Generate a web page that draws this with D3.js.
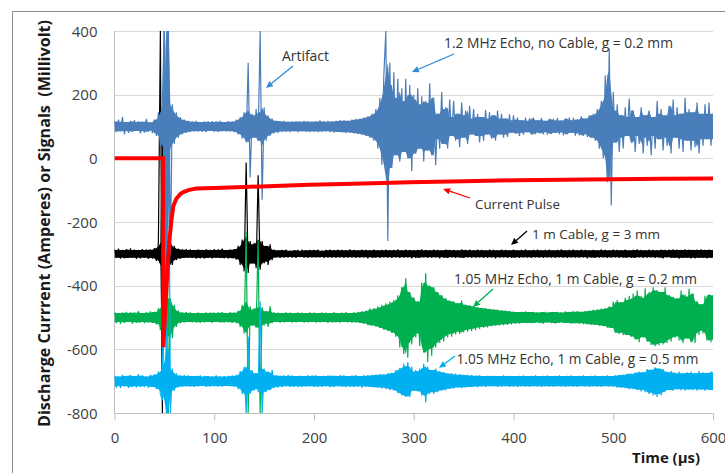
<!DOCTYPE html>
<html lang="en">
<head>
<meta charset="UTF-8">
<title>Discharge current and echo signals</title>
<script src="https://d3js.org/d3.v7.min.js"></script>
<style>
    body { margin: 0; background: #fff; }
    svg text { font-family: "Open Sans", "Liberation Sans", sans-serif; }
    .tick text { fill: #404040; font-size: 15px; }
    .ann { fill: #333; font-size: 14px; }
    .title { fill: #1a1a1a; font-weight: bold; font-size: 14px; }
</style>
</head>
<body>
<svg id="chart" width="725" height="473"></svg>
<script>
// axis ticks
const xTicks = [0, 100, 200, 300, 400, 500, 600];
const yTicks = [-800, -600, -400, -200, 0, 200, 400];

// echo traces are read every 2 us (0..600), values in mV around each trace's offset
const stepUs = 2;
const blueOffset = 100, blackOffset = -300, greenOffset = -500, cyanOffset = -700;

// 1.2 MHz echo, no cable, g = 0.2 mm
const blueV = [
    16,-18,22,-15,30,-25,14,-20,18,-16,
    20,-14,17,-22,15,-19,24,-17,13,-21,
    22,-30,45,-60,80,320,-400,320,-400,70,
    -55,45,-35,30,-25,22,-20,18,-17,16,
    -15,18,-16,14,-17,15,-18,16,-14,17,
    -16,15,-17,18,-15,14,-16,17,-15,16,
    -18,22,-25,30,-38,45,-50,200,-160,40,
    -35,55,-45,300,-230,60,-45,35,-30,25,
    -22,18,-20,17,-16,18,-17,15,-18,16,
    -15,17,-18,16,-15,18,-16,17,-18,15,
    -17,16,-18,19,-16,17,-15,18,-17,16,
    -19,18,-17,20,-18,19,-21,18,-20,22,
    -21,24,-23,25,-26,28,-30,32,-35,40,
    -45,55,-70,90,-120,160,300,-360,200,-130,
    170,-90,150,-110,120,-80,150,-100,130,-140,
    100,-85,120,-70,95,-110,80,-75,136,-90,
    90,-122,40,-70,108,-55,60,-69,85,-30,
    80,-45,40,-65,75,-35,50,-55,65,-25,
    55,-30,40,-50,30,-45,52,-25,45,-38,
    35,-45,50,-25,40,-35,25,-33,38,-20,
    35,-22,28,-30,20,-26,28,-18,26,-25,
    28,-24,20,-22,27,-25,18,-26,25,-23,
    24,-20,27,-24,19,-28,26,-24,28,-20,
    27,-29,22,-28,32,-30,25,-33,35,-35,
    40,-45,55,-70,81,-100,161,-175,245,-248,
    108,-50,70,-80,35,-69,60,-30,88,-50,
    50,-80,30,-55,60,-85,35,-60,50,-90,
    30,-70,80,-40,55,-75,35,-60,65,-85,
    85,-35,60,-70,40,-80,90,-45,55,-75,
    45,-65,75,-85,40,-60,70,-40,75,-60,
    40
];

// 1 m cable, g = 3 mm
const blackV = [
    14,-12,16,-15,12,-14,15,-13,17,-12,
    13,-16,12,-14,15,-12,14,-16,13,-15,
    18,-22,35,700,-500,700,-60,-45,40,-35,
    25,-20,16,-15,14,-13,15,-12,14,-13,
    12,-15,13,-14,12,-15,14,-13,12,-14,
    15,-12,14,-13,16,-14,12,-15,13,-14,
    15,-18,25,-35,45,-55,287,-60,40,-30,
    35,-45,247,-50,40,-30,25,-35,30,-20,
    13,-12,11,-13,12,-11,13,-12,10,-12,
    11,-13,12,-10,13,-12,11,-13,12,-11,
    12,-11,13,-12,10,-13,12,-11,13,-12,
    11,-12,13,-11,12,-13,11,-12,14,-11,
    12,-13,11,-12,13,-11,12,-14,11,-12,
    13,-12,11,-13,12,-11,13,-12,11,-13,
    12,-11,14,-13,11,-12,13,-11,12,-14,
    11,-13,12,-12,14,-11,12,-13,11,-12,
    13,-11,12,-14,11,-12,13,-12,12,-11,
    12,-13,11,-12,14,-13,12,-11,13,-12,
    11,-12,13,-11,12,-13,11,-12,13,-11,
    12,-14,11,-12,13,-11,12,-13,11,-12,
    13,-12,11,-13,12,-11,14,-12,11,-13,
    12,-11,13,-12,11,-13,12,-11,13,-12,
    11,-13,12,-11,14,-12,11,-13,12,-11,
    13,-12,11,-12,13,-11,12,-14,11,-12,
    12,-13,11,-12,14,-11,12,-13,11,-12,
    13,-11,12,-13,11,-12,13,-12,11,-13,
    12,-12,14,-11,12,-13,11,-12,13,-11,
    12,-13,11,-12,13,-14,12,-11,13,-12,
    14,-12,13,-15,12,-13,14,-12,13,-14,
    12,-14,13,-12,14,-13,12,-14,13,-12,
    12
];

// 1.05 MHz echo, 1 m cable, g = 0.2 mm
const greenV = [
    16,-18,14,-20,15,-17,18,-14,16,-19,
    15,-17,20,-16,14,-18,16,-15,19,-17,
    18,-22,30,-40,50,-60,760,-300,60,-65,
    40,-30,22,-18,16,-15,17,-14,16,-15,
    14,-16,15,-17,14,-15,16,-14,15,-16,
    15,-14,16,-15,17,-16,14,-15,16,-17,
    15,-18,22,-30,40,-50,270,-300,35,-25,
    30,-32,242,-300,32,-25,20,-30,35,-18,
    16,-14,15,-16,14,-15,16,-14,15,-16,
    14,-15,16,-14,15,-16,14,-15,16,-14,
    15,-16,14,-15,16,-14,15,-17,14,-15,
    16,-15,14,-16,15,-14,17,-15,14,-16,
    16,-15,18,-17,20,-19,22,-24,28,-25,
    30,-28,35,-33,40,-38,45,-42,50,-48,
    55,-60,70,-94,95,-115,123,-126,80,-85,
    63,-63,50,-90,110,-110,139,-140,100,-120,
    95,-94,80,-80,70,-75,60,-63,53,-60,
    50,-53,45,-52,53,-47,40,-45,38,-42,
    35,-40,32,-36,30,-32,29,-31,27,-28,
    25,-26,24,-25,22,-24,21,-23,20,-22,
    18,-20,17,-19,18,-17,19,-18,17,-18,
    18,-17,16,-18,17,-19,18,-16,17,-18,
    17,-19,18,-17,16,-18,19,-17,18,-19,
    19,-18,20,-19,18,-21,20,-22,21,-23,
    24,-23,26,-25,28,-27,30,-32,35,-33,
    50,-48,55,-52,48,-56,62,-55,68,-60,
    75,-68,85,-78,68,-62,92,-75,80,-86,
    95,-90,85,-87,80,-85,95,-80,70,-75,
    65,-63,60,-72,85,-80,72,-66,90,-78,
    75,-80,50,-55,42,-50,68,-72,72,-78,
    70
];

// 1.05 MHz echo, 1 m cable, g = 0.5 mm
const cyanV = [
    18,-20,15,-22,20,-16,17,-21,19,-18,
    16,-20,22,-17,18,-19,15,-21,20,-18,
    22,-25,30,-40,-60,1100,-100,1100,-100,40,
    -30,25,-20,18,-17,19,-16,18,-17,16,
    -18,17,-16,18,-15,17,-18,16,-17,15,
    -16,18,-17,15,-18,16,-15,17,-16,18,
    -17,20,-25,32,-40,45,-100,140,-40,35,
    -30,25,-35,250,-100,40,-35,30,-28,35,
    -22,18,-20,17,-19,18,-16,20,-18,17,
    -18,16,-19,17,-18,16,-17,19,-16,18,
    -17,18,-19,16,-18,17,-16,18,-19,17,
    -18,17,-16,19,-17,18,-19,16,-18,17,
    -17,19,-18,16,-20,18,-17,19,-18,20,
    -19,21,-20,22,-23,21,-25,24,-28,26,
    -30,35,-38,42,-45,55,-48,60,-50,45,
    -30,35,-32,40,-45,55,-67,45,-40,35,
    -40,40,-35,30,-30,28,-28,25,-24,25,
    -22,24,-20,22,-21,20,-19,20,-18,19,
    -18,17,-19,18,-17,16,-18,17,-16,17,
    -16,17,-18,16,-17,18,-16,17,-18,16,
    -17,16,-18,17,-16,18,-17,16,-18,17,
    -16,18,-17,16,-18,17,-16,18,-17,16,
    -18,17,-16,18,-17,16,-18,17,-16,18,
    -17,16,-18,17,-16,18,-17,16,-18,17,
    -16,18,-17,16,-18,17,-16,18,-17,16,
    -17,18,-20,19,-21,20,-22,24,-25,23,
    -25,28,-27,30,-32,28,-35,38,-40,36,
    -45,43,-50,40,-45,38,-35,30,-28,32,
    -30,27,-25,30,-28,25,-30,28,-26,30,
    -28,25,-30,32,-26,28,-30,26,-28,30,
    -28
];

// current pulse (A)
const redT = [0,20,40,48.7,48.9,51,53,55,57,59,62,66,69,75,82,100,130,160,196,250,296,350,400,450,500,550,600];
const redV = [0,0,0,0,-593,-470,-360,-260,-195,-150,-127,-112,-106,-99,-95,-93,-90,-87,-83,-79,-75,-72,-69,-67,-66,-64,-63];

const svg = d3.select("#chart");

const x = d3.scaleLinear().domain([0, 600]).range([114.5, 713]);
const y = d3.scaleLinear().domain([-800, 400]).range([413, 31]);

// outer frame (cut off at right and bottom)
svg.append("path")
    .attr("d", "M12.5,473V11.5H725")
    .attr("fill", "none").attr("stroke", "#8c8c8c");

// horizontal gridlines
svg.append("g").selectAll("line")
    .data(yTicks)
    .join("line")
    .attr("x1", x(0)).attr("x2", x(600))
    .attr("y1", d => Math.round(y(d)) + 0.5).attr("y2", d => Math.round(y(d)) + 0.5)
    .attr("stroke", d => d === -800 ? "#bfbfbf" : "#d9d9d9");

// y axis line
svg.append("line")
    .attr("x1", x(0)).attr("x2", x(0))
    .attr("y1", y(400)).attr("y2", y(-800))
    .attr("stroke", "#bfbfbf");

// x axis ticks + labels
const xAxis = svg.append("g")
    .attr("transform", `translate(0,${Math.round(y(-800)) + 0.5})`)
    .call(d3.axisBottom(x).tickValues(xTicks).tickSize(7).tickPadding(12).tickFormat(d3.format("d")));
xAxis.select(".domain").remove();
xAxis.selectAll(".tick line").attr("stroke", "#bfbfbf");

// y axis labels
const yAxis = svg.append("g")
    .attr("transform", `translate(${x(0)},0)`)
    .call(d3.axisLeft(y).tickValues(yTicks).tickSize(0).tickPadding(17).tickFormat(d => d < 0 ? "-" + Math.abs(d) : d));
yAxis.select(".domain").remove();
yAxis.selectAll(".tick text").attr("dy", "0.35em");

// plot clip
svg.append("clipPath").attr("id", "plot")
    .append("rect")
    .attr("x", x(0)).attr("y", y(400))
    .attr("width", x(600) - x(0)).attr("height", y(-800) - y(400));

const traces = svg.append("g").attr("clip-path", "url(#plot)");

// dense trace: a solid core where neighbouring swings overlap, the raw line on top
function trace(values, offset, color) {
    const core = values.map((v, i) => Math.min(
        Math.abs(values[Math.max(i - 1, 0)]),
        Math.abs(v),
        Math.abs(values[Math.min(i + 1, values.length - 1)])));
    const area = d3.area()
        .x((d, i) => x(i * stepUs))
        .y0(d => y(offset - d))
        .y1(d => y(offset + d));
    traces.append("path")
        .datum(core)
        .attr("d", area)
        .attr("fill", color);

    const line = d3.line()
        .x((d, i) => x(i * stepUs))
        .y(d => y(d + offset));
    traces.append("path")
        .datum(values)
        .attr("d", line)
        .attr("fill", "none")
        .attr("stroke", color)
        .attr("stroke-width", 1.2)
        .attr("stroke-linejoin", "bevel");
}

trace(blackV, blackOffset, "#000000");
trace(greenV, greenOffset, "#00b050");
trace(cyanV, cyanOffset, "#00b0f0");
trace(blueV, blueOffset, "#4a7ebb");

const redLine = d3.line().x((d, i) => x(redT[i])).y(d => y(d));
traces.append("path")
    .datum(redV)
    .attr("d", redLine)
    .attr("fill", "none")
    .attr("stroke", "#ff0000")
    .attr("stroke-width", 4);

// fit a text element to a measured width
function fit(t, w) {
    const len = t.node().getComputedTextLength();
    const fs = parseFloat(t.style("font-size"));
    t.style("font-size", (fs * w / len).toFixed(2) + "px");
}

// annotations: text, left x, baseline y, width, arrow tail, arrow head, colour
const notes = [
    { text: "Artifact", x: 282, y: 60.5, w: 47, tail: [293, 66], head: [266, 88], color: "#2f8ad2" },
    { text: "1.2 MHz Echo, no Cable, g = 0.2 mm", x: 444, y: 48, w: 229, tail: [454, 54], head: [412, 72], color: "#2f8ad2" },
    { text: "Current Pulse", x: 475, y: 208.5, w: 85, tail: [470, 198], head: [443, 189], color: "#ff0000" },
    { text: "1 m Cable, g = 3 mm", x: 532, y: 238.5, w: 128, tail: [527, 231], head: [511, 245], color: "#000000" },
    { text: "1.05 MHz Echo, 1 m Cable, g = 0.2 mm", x: 454, y: 283.5, w: 243, tail: [493, 289], head: [473, 307], color: "#00b050" },
    { text: "1.05 MHz Echo, 1 m Cable, g = 0.5 mm", x: 456.5, y: 363.5, w: 242, tail: [455, 356], head: [439, 368], color: "#00b0f0" }
];

notes.forEach(n => {
    const t = svg.append("text").attr("class", "ann")
        .attr("x", n.x).attr("y", n.y).text(n.text);
    fit(t, n.w);

    const [x1, y1] = n.tail, [x2, y2] = n.head;
    const a = Math.atan2(y2 - y1, x2 - x1);
    const L = 7, W = 3.2;
    const bx = x2 - L * Math.cos(a), by = y2 - L * Math.sin(a);
    svg.append("line")
        .attr("x1", x1).attr("y1", y1).attr("x2", bx).attr("y2", by)
        .attr("stroke", n.color).attr("stroke-width", 1.3);
    svg.append("path")
        .attr("d", `M${x2},${y2}L${bx + W * Math.sin(a)},${by - W * Math.cos(a)}L${bx - W * Math.sin(a)},${by + W * Math.cos(a)}Z`)
        .attr("fill", n.color);
});

// axis titles
const xt = svg.append("text").attr("class", "title")
    .attr("x", 700).attr("y", 463).attr("text-anchor", "end")
    .text("Time (µs)");
fit(xt, 68);

const yt = svg.append("text").attr("class", "title")
    .attr("transform", "translate(50,223.5) rotate(-90)")
    .attr("text-anchor", "middle")
    .style("white-space", "pre")
    .text("Discharge Currrent (Amperes) or Signals  (Millivolt)");
fit(yt, 407);
</script>
</body>
</html>
